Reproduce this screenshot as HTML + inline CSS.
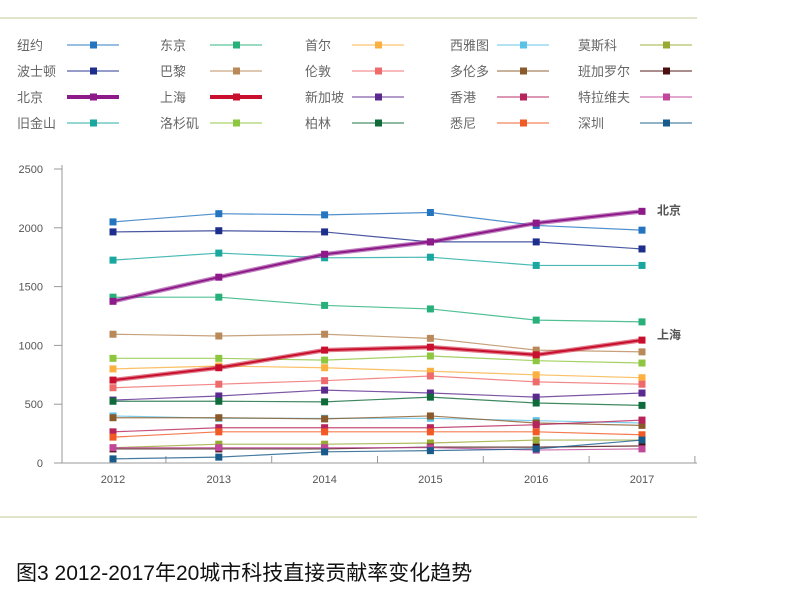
<!DOCTYPE html>
<html><head><meta charset="utf-8">
<style>
body{margin:0;width:800px;height:598px;background:#fff;overflow:hidden;font-family:"Liberation Sans","Noto Sans CJK SC",sans-serif;}
svg{position:absolute;left:0;top:0}
</style></head>
<body>
<svg id="chart" width="800" height="598"></svg>
<script>
const years=["2012","2013","2014","2015","2016","2017"];
const yTicks=[0,500,1000,1500,2000,2500];
const names=["纽约","东京","首尔","西雅图","莫斯科","波士顿","巴黎","伦敦","多伦多","班加罗尔","北京","上海","新加坡","香港","特拉维夫","旧金山","洛杉矶","柏林","悉尼","深圳"];
const colors=["#2474c0","#27b07a","#fbb040","#5bc2e7","#9aa933","#1d2e8c","#b9895a","#ef6b6b","#8b5a2b","#4a0f0f","#8e1a8a","#c8102e","#5b2a8e","#b5245a","#c0479a","#1aa7a0","#8dc63f","#0f6b3a","#f15a24","#185a8a"];
const vNewYork=[2050,2120,2110,2130,2020,1980];
const vTokyo=[1410,1410,1340,1310,1215,1200];
const vSeoul=[800,825,810,780,750,725];
const vSeattle=[400,380,380,380,360,340];
const vMoscow=[130,160,160,170,195,195];
const vBoston=[1965,1975,1965,1880,1880,1820];
const vParis=[1095,1080,1095,1060,960,945];
const vLondon=[640,670,700,740,690,670];
const vToronto=[385,385,375,400,340,320];
const vBangalore=[120,120,120,135,135,145];
const vBeijing=[1375,1580,1775,1880,2040,2140];
const vShanghai=[705,810,960,985,920,1045];
const vSingapore=[535,570,620,595,560,595];
const vHongKong=[265,300,300,300,325,365];
const vTelAviv=[130,130,130,130,110,120];
const vSanFrancisco=[1725,1785,1745,1750,1680,1680];
const vLosAngeles=[890,890,875,910,870,850];
const vBerlin=[525,525,520,560,510,490];
const vSydney=[220,265,265,265,265,240];
const vShenzhen=[35,50,95,105,120,195];
const series=[vNewYork,vTokyo,vSeoul,vSeattle,vMoscow,vBoston,vParis,vLondon,vToronto,vBangalore,vBeijing,vShanghai,vSingapore,vHongKong,vTelAviv,vSanFrancisco,vLosAngeles,vBerlin,vSydney,vShenzhen];
const slugs=["new-york","tokyo","seoul","seattle","moscow","boston","paris","london","toronto","bangalore","beijing","shanghai","singapore","hong-kong","tel-aviv","san-francisco","los-angeles","berlin","sydney","shenzhen"];

const NS="http://www.w3.org/2000/svg";
const svg=document.getElementById('chart');
function el(t,a,p){const e=document.createElementNS(NS,t);for(const k in a)e.setAttribute(k,a[k]);(p||svg).appendChild(e);return e;}
const x=i=>113+i*105.8;
const y=v=>463-v*0.1176;

// decorative rules
let r=el('line',{x1:0,y1:18,x2:697,y2:18,stroke:'#d9dcb8','stroke-width':1.5});


r=el('line',{x1:0,y1:517,x2:697,y2:517,stroke:'#d9dcb8','stroke-width':1.5});



// legend
const colX=[17,160,305,450,578];
const lineX=[67,210,352,497,640];
for(let i=0;i<20;i++){
  const c=i%5,row=Math.floor(i/5);
  const yy=45+row*26;
  const g=el('g',{});
  
  
  const t=el('text',{x:colX[c],y:yy+5,'font-size':13,fill:'#666'},g);t.textContent=names[i];
  const thick=(i===10||i===11);
  el('line',{x1:lineX[c],y1:yy,x2:lineX[c]+52,y2:yy,stroke:colors[i],'stroke-width':thick?4:1.2,'stroke-opacity':thick?1:0.75},g);
  el('rect',{x:lineX[c]+23,y:yy-3.5,width:7,height:7,fill:colors[i]},g);
}

// axes
const ax=el('g',{});


el('line',{x1:62,y1:165,x2:62,y2:463,stroke:'#999','stroke-width':1},ax);
yTicks.forEach(v=>{
  el('line',{x1:54,y1:y(v),x2:62,y2:y(v),stroke:'#999'},ax);
  const t=el('text',{x:43,y:y(v)+4,'font-size':11,fill:'#555','text-anchor':'end'},ax);t.textContent=v;
});
const xa=el('g',{});


el('line',{x1:62,y1:463,x2:697,y2:463,stroke:'#999'},xa);
for(let i=0;i<6;i++){
  const tx=x(i)+52.9;
  el('line',{x1:tx,y1:456,x2:tx,y2:463,stroke:'#999'},xa);
  const t=el('text',{x:x(i),y:483,'font-size':11,fill:'#555','text-anchor':'middle'},xa);t.textContent=years[i];
}

// series
const order=[...Array(20).keys()].filter(i=>i!==10&&i!==11).concat([11,10]);
order.forEach(i=>{
  const g=el('g',{});
  
  
  const pts=series[i].map((v,j)=>x(j)+','+y(v)).join(' ');
  const thick=(i===10||i===11);
  if(thick) el('polyline',{points:pts,fill:'none',stroke:colors[i],'stroke-width':4.5,'stroke-opacity':0.55},g);
  el('polyline',{points:pts,fill:'none',stroke:colors[i],'stroke-width':thick?2:1.2,'stroke-opacity':thick?1:0.8},g);
  series[i].forEach((v,j)=>{
    const m=el('rect',{x:x(j)-3.5,y:y(v)-3.5,width:7,height:7,fill:colors[i]},g);
    
    
  });
});
let lb=el('text',{x:657,y:y(vBeijing[5])+3,'font-size':12,'font-weight':'bold',fill:'#555'});lb.textContent='北京';


lb=el('text',{x:657,y:y(vShanghai[5])-1,'font-size':12,'font-weight':'bold',fill:'#555'});lb.textContent='上海';



const tt=el('text',{x:16,y:580,'font-size':21,fill:'#111'});tt.textContent='图3 2012-2017年20城市科技直接贡献率变化趋势';


</script>
</body></html>
